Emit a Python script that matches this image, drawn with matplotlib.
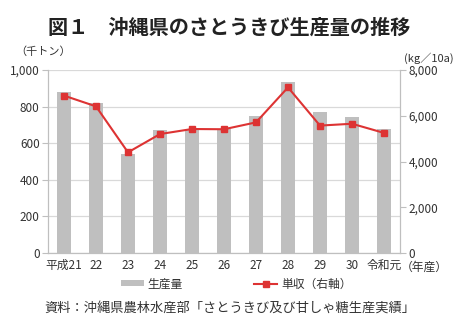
import matplotlib
matplotlib.use("Agg")
import matplotlib.pyplot as plt
from matplotlib.patches import Patch
from matplotlib.lines import Line2D
import numpy as np

plt.rcParams['font.family'] = ['Noto Sans CJK JP', 'DejaVu Sans']

categories = ["平成21", "22", "23", "24", "25", "26", "27", "28", "29", "30", "令和元"]
production = [878, 818, 540, 674, 678, 677, 750, 935, 768, 741, 676]   # 千トン
yield_per10a = [6880, 6410, 4400, 5200, 5420, 5410, 5710, 7240, 5570, 5650, 5250]  # kg/10a
left_ticks = [0, 200, 400, 600, 800, 1000]
left_labels = ["0", "200", "400", "600", "800", "1,000"]
right_ticks = [0, 2000, 4000, 6000, 8000]
right_labels = ["0", "2,000", "4,000", "6,000", "8,000"]

BAR = "#BFBFBF"
RED = "#DD3333"
GRID = "#D9D9D9"
TXT = "#333333"

fig = plt.figure(figsize=(4.56, 3.31), dpi=100)
ax = fig.add_axes([48/456, 1-253/331, 352/456, 183/331])
x = np.arange(len(categories))
ax.bar(x, production, width=0.42, color=BAR, zorder=2)
ax.set_xlim(-0.5, len(categories)-0.5)
ax.set_ylim(0, 1000)
ax.set_yticks(left_ticks)
ax.set_yticklabels(left_labels)
ax.set_xticks(x)
ax.set_xticklabels(categories)
ax.grid(axis='y', color=GRID, lw=0.9, zorder=0)
ax.set_axisbelow(True)
ax.spines['top'].set_visible(False)
for s in ['left', 'right', 'bottom']:
    ax.spines[s].set_color('#BFBFBF')
ax.tick_params(axis='y', length=4, color='#BFBFBF', labelsize=8.5, labelcolor=TXT, pad=2)
ax.tick_params(axis='x', length=0, labelsize=8.5, labelcolor=TXT, pad=4)

ax2 = ax.twinx()
ax2.plot(x, yield_per10a, color=RED, lw=1.5, marker='s', markersize=5, zorder=3)
ax2.set_ylim(0, 8000)
ax2.set_yticks(right_ticks)
ax2.set_yticklabels(right_labels)
ax2.spines['top'].set_visible(False)
for s in ['left', 'right', 'bottom']:
    ax2.spines[s].set_color('#BFBFBF')
ax2.tick_params(axis='y', length=4, color='#BFBFBF', labelsize=8.5, labelcolor=TXT, pad=2)

fig.text(229/456, 1-27/331, "図１　沖縄県のさとうきび生産量の推移", ha='center', va='center',
         fontsize=14.5, fontweight='bold', color='#222222')
fig.text(15/456, 1-52/331, "（千トン）", ha='left', va='center', fontsize=8, color=TXT)
fig.text(454/456, 1-58/331, "(kg／10a)", ha='right', va='center', fontsize=8, color=TXT)
fig.text(401/456, 1-267/331, "（年産）", ha='left', va='center', fontsize=8.5, color=TXT)

handles = [Patch(facecolor=BAR, edgecolor='none'),
           Line2D([0], [0], color=RED, lw=1.5, marker='s', markersize=4)]
fig.legend(handles, ["生産量", "単収（右軸）"], loc='center',
           bbox_to_anchor=(236/456, 1-284/331), ncol=2, frameon=False,
           columnspacing=6, handlelength=2.0, handleheight=0.45, handletextpad=0.3,
           fontsize=8.5, labelcolor=TXT)

fig.text(230/456, 1-308/331, "資料：沖縄県農林水産部「さとうきび及び甘しゃ糖生産実績」",
         ha='center', va='center', fontsize=9.5, color=TXT)

fig.savefig("out.png", dpi=100)
